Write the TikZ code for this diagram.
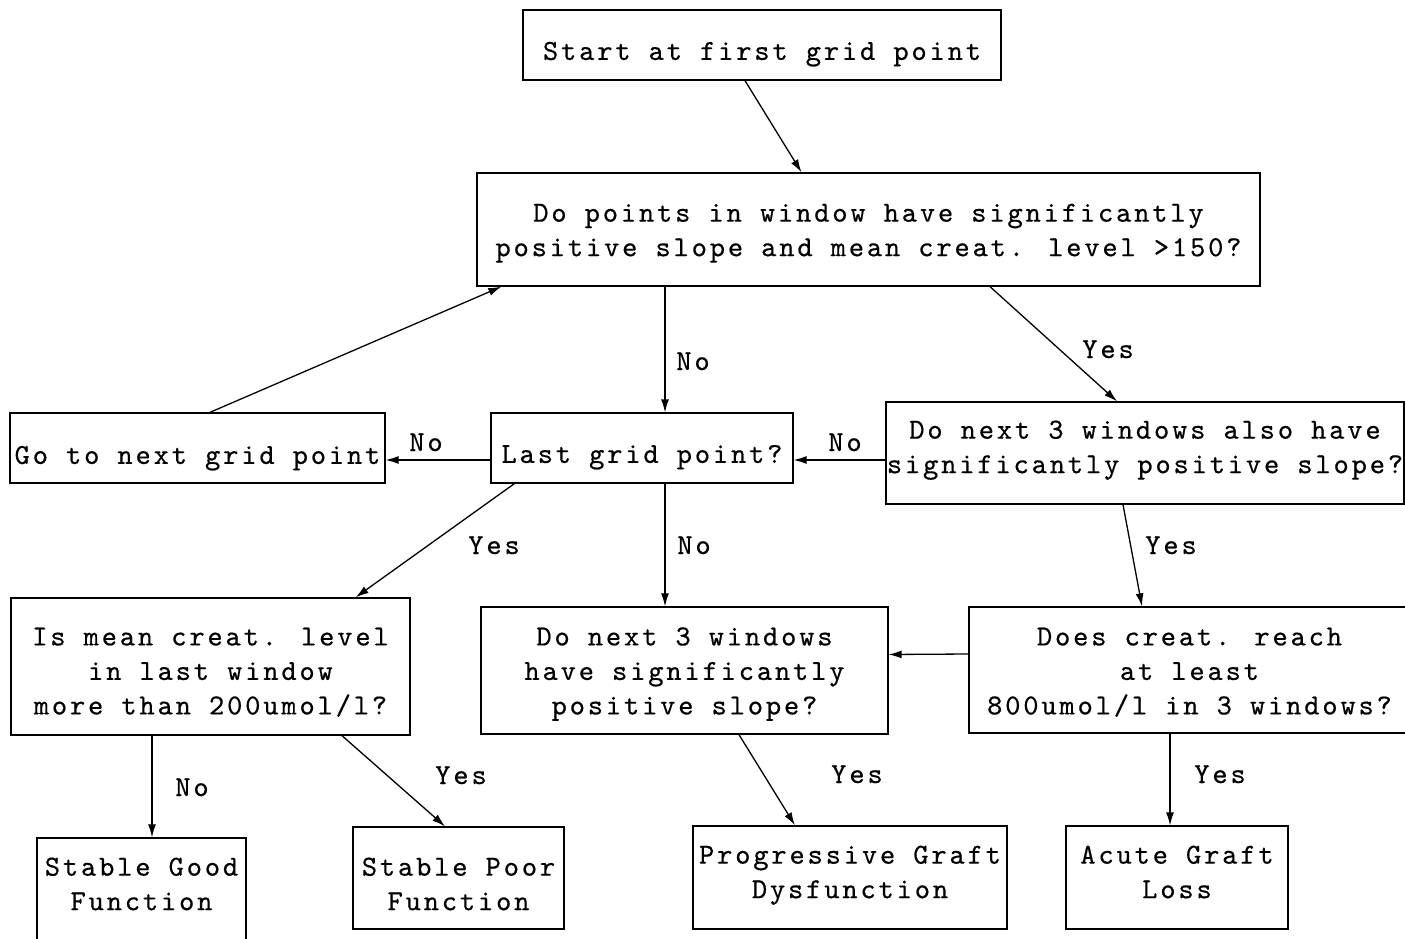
\documentclass[tikz,border=0pt]{standalone}
\usepackage{fontspec}
\newfontfamily\chartfont{lmmono10-regular.otf}[LetterSpace=9.9, FakeBold=0.5]
\usetikzlibrary{arrows.meta}
% text block of a box, set #1 lower than the middle of the box
\newcommand\boxtext[2]{\raisebox{0pt}[\dimexpr\height+#1\relax][\dimexpr\depth-#1\relax]{\begin{tabular}{@{}c@{}}#2\end{tabular}}}
\tikzset{
  box/.style={draw, line width=1.3pt, inner sep=0pt},
  answer/.style={anchor=base, inner sep=0pt},
  flow/.style={line width=1.3pt, -{Latex[length=13pt,width=8pt]}}
}
\begin{document}
\begin{tikzpicture}[x=1pt, y=-1pt, font={\chartfont\fontsize{29}{34.5}\selectfont}]
\useasboundingbox (0,0) rectangle (1405,939);
\clip (0,0) rectangle (1405,939);
\node[box, minimum width=478, minimum height=70] (start) at (762,45) {\boxtext{8pt}{Start at first grid point}};
\node[box, minimum width=783, minimum height=113] (slope) at (868.5,229.5) {\boxtext{2.5pt}{Do points in window have significantly\\positive slope and mean creat. level >150?}};
\node[box, minimum width=375, minimum height=70] (nextpt) at (197.5,448) {\boxtext{9pt}{Go to next grid point}};
\node[box, minimum width=302, minimum height=70] (lastpt) at (642,448) {\boxtext{8pt}{Last grid point?}};
\node[box, minimum width=518, minimum height=102] (confirm) at (1145,453) {\boxtext{-4pt}{Do next 3 windows also have\\significantly positive slope?}};
\node[box, minimum width=399, minimum height=137] (meanlvl) at (210.5,666.5) {\boxtext{6.5pt}{Is mean creat. level\\in last window\\more than 200umol/l?}};
\node[box, minimum width=407, minimum height=127] (recheck) at (684.5,670.5) {\boxtext{2.5pt}{Do next 3 windows\\have significantly\\positive slope?}};
\node[box, minimum width=441, minimum height=126] (reach) at (1189.5,670) {\boxtext{3pt}{Does creat. reach\\at least\\800umol/l in 3 windows?}};
\node[box, minimum width=209, minimum height=106] (good) at (141.5,891) {\boxtext{-5pt}{Stable Good\\Function}};
\node[box, minimum width=211, minimum height=102] (poor) at (458.5,878) {\boxtext{8pt}{Stable Poor\\Function}};
\node[box, minimum width=314, minimum height=103] (progr) at (850,877.5) {\boxtext{-3.5pt}{Progressive Graft\\Dysfunction}};
\node[box, minimum width=222, minimum height=103] (acute) at (1177,877.5) {\boxtext{-3.5pt}{Acute Graft\\Loss}};
\draw[flow] ([xshift=-17pt]start.south) -- ([xshift=-67pt]slope.north);
\draw[flow] ([xshift=121.5pt]slope.south) -- ([xshift=-28pt]confirm.north);
\draw[flow] ([xshift=-203.5pt]slope.south) -- ([xshift=23pt]lastpt.north);
\draw[flow] ([yshift=-7pt]confirm.west) -- ([yshift=-12pt]lastpt.east);
\draw[flow] ([yshift=-12pt]lastpt.west) -- ([yshift=-12pt]nextpt.east);
\draw[flow] ([xshift=12.5pt]nextpt.north) -- ([xshift=25pt]slope.south west);
\draw[flow] ([xshift=24pt]lastpt.south west) -- ([xshift=-55pt]meanlvl.north east);
\draw[flow] ([xshift=23pt]lastpt.south) -- ([xshift=-19.5pt]recheck.north);
\draw[flow] ([xshift=-22pt]confirm.south) -- ([xshift=-47.5pt]reach.north);
\draw[flow] ([yshift=16pt]reach.west) -- ([yshift=16pt]recheck.east);
\draw[flow] ([xshift=-58.5pt]meanlvl.south) -- ([xshift=10.5pt]good.north);
\draw[flow] ([xshift=131.5pt]meanlvl.south) -- ([xshift=-13.5pt]poor.north);
\draw[flow] ([xshift=54.5pt]recheck.south) -- ([xshift=-55pt]progr.north);
\draw[flow] ([xshift=-19.5pt]reach.south) -- ([xshift=-7pt]acute.north);
\node[answer] (noa) at (693,370) {No};
\node[answer] (yesa) at (1108,358) {Yes};
\node[answer] (nob) at (845,451) {No};
\node[answer] (noc) at (426,451) {No};
\node[answer] (yesb) at (494,554) {Yes};
\node[answer] (nod) at (694,554) {No};
\node[answer] (yesc) at (1171,554) {Yes};
\node[answer] (noe) at (192,796) {No};
\node[answer] (yesd) at (461,784) {Yes};
\node[answer] (yese) at (857,783) {Yes};
\node[answer] (yesf) at (1220,783) {Yes};
\end{tikzpicture}
\end{document}
